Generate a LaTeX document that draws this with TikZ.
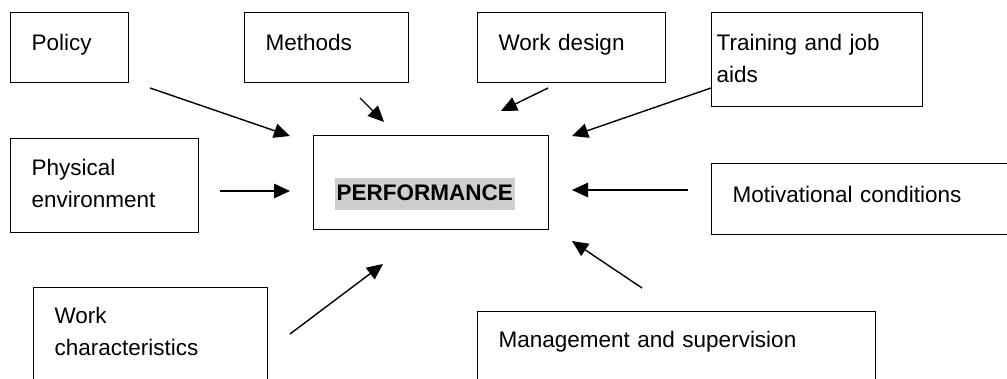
\documentclass[tikz,border=0pt]{standalone}
\usepackage{fontspec}
\setmainfont{Liberation Sans}
\usetikzlibrary{arrows.meta,positioning}
\definecolor{hlgray}{RGB}{206,206,206}

\begin{document}
\begin{tikzpicture}[x=1pt,y=-1pt,
        every node/.style={font=\fontsize{22.5}{32}\selectfont},
        factor/.style={draw, line width=1.3pt, anchor=north west, inner xsep=21pt, inner ysep=0pt, align=left},
        push/.style={-{Triangle[length=16pt,width=14.5pt]}, line width=1.4pt}
    ]
    \useasboundingbox (0,0) rectangle (1007,379);
    \clip (0,0) rectangle (1007,379);

    % Factor boxes
    \node[factor, text width=76pt, text height=38pt, text depth=32pt] (policy) at (10,12) {Policy};
    \node[factor, text width=122pt, text height=38pt, text depth=32pt] (methods) at (244,12) {Methods};
    \node[factor, text width=146pt, text height=38pt, text depth=32pt] (design) at (477,12) {Work design};
    \node[factor, inner xsep=5pt, text width=201pt, text height=38pt, text depth=56pt] (training) at (711,12) {Training and job\\ aids};
    \node[factor, text width=146pt, text height=37pt, text depth=57pt] (physical) at (10,138) {Physical\\ environment};
    \node[factor, text width=278pt, text height=39pt, text depth=32pt] (motivation) at (711,163) {Motivational conditions};
    \node[factor, text width=192pt, text height=36pt, text depth=100pt] (workchar) at (33,287) {Work\\ characteristics};
    \node[factor, text width=356pt, text height=36pt, text depth=100pt] (management) at (477,311) {Management and supervision};

    % Centre box
    \node[factor, text width=193pt, text height=65pt, text depth=29pt] (performance) at (313,135)
        {{\setlength{\fboxsep}{0pt}\colorbox{hlgray}{\rule[-9pt]{0pt}{32pt}\kern2pt\textbf{PERFORMANCE}\kern2pt}}};

    % Arrow ends
    \coordinate (policy-out) at (150,88);
    \coordinate (policy-in) at (290,136);
    \coordinate (methods-out) at (360,98);
    \coordinate (methods-in) at (384,122);
    \coordinate (design-out) at (548,88);
    \coordinate (design-in) at (501,111);
    \coordinate (training-out) at (711,88);
    \coordinate (training-in) at (572,136);
    \coordinate (physical-out) at (220,191);
    \coordinate (physical-in) at (290,191);
    \coordinate (motivation-out) at (688,190);
    \coordinate (motivation-in) at (572,190);
    \coordinate (workchar-out) at (290,334);
    \coordinate (workchar-in) at (383,264);
    \coordinate (management-out) at (642,288);
    \coordinate (management-in) at (572,241);

    % Edges
    \draw[push] (policy-out) -- (policy-in);
    \draw[push] (methods-out) -- (methods-in);
    \draw[push] (design-out) -- (design-in);
    \draw[push] (training-out) -- (training-in);
    \draw[push] (physical-out) -- (physical-in);
    \draw[push] (motivation-out) -- (motivation-in);
    \draw[push] (workchar-out) -- (workchar-in);
    \draw[push] (management-out) -- (management-in);

\end{tikzpicture}
\end{document}
